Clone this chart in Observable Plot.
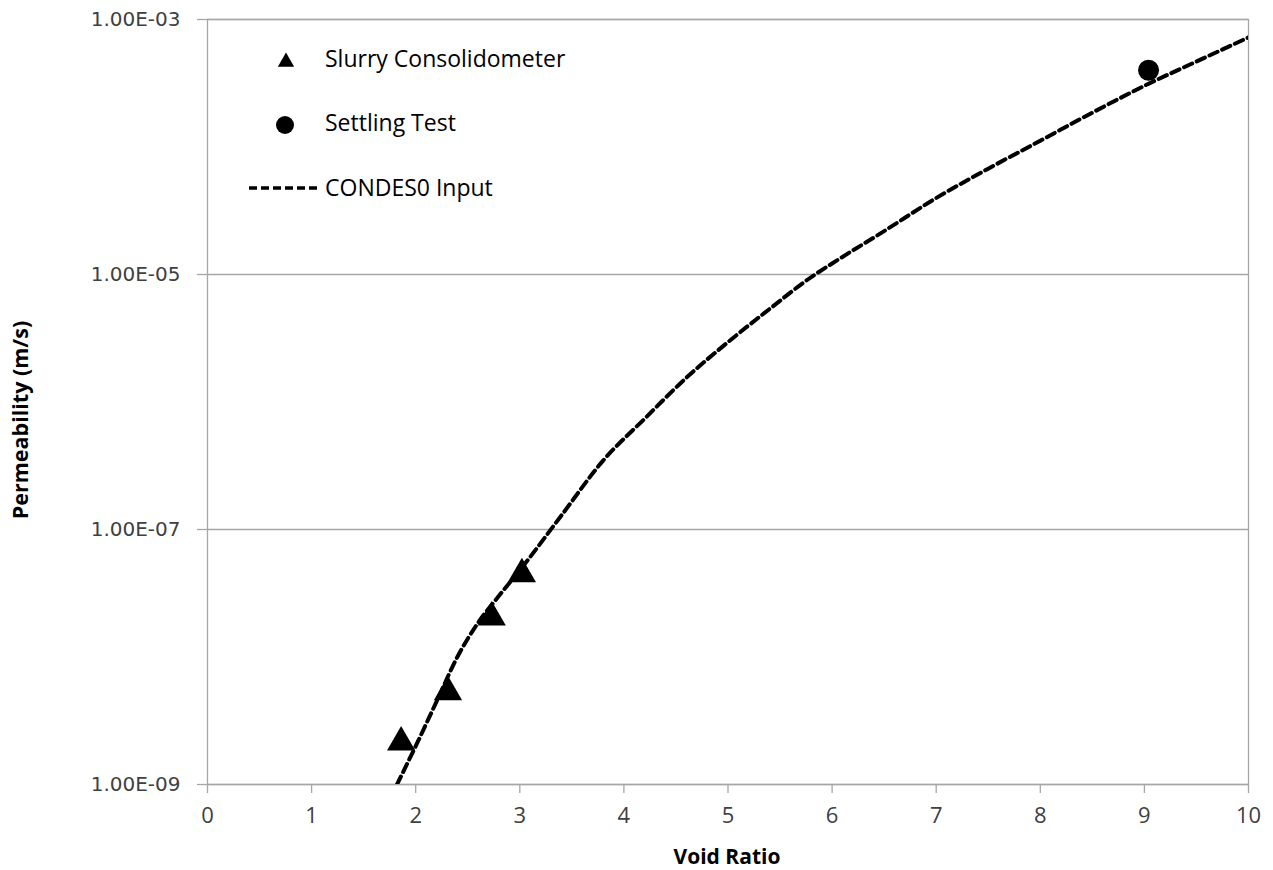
<!DOCTYPE html>
<html>
<head>
<meta charset="utf-8">
<script src="https://cdn.jsdelivr.net/npm/d3@7"></script>
<script src="https://cdn.jsdelivr.net/npm/@observablehq/plot@0.6"></script>
<style>
  html, body { margin: 0; padding: 0; background: #fff; }
  #wrap { position: relative; width: 1273px; height: 870px; overflow: hidden; }
  .title { position: absolute; font-family: "Open Sans", sans-serif; font-weight: bold; font-size: 21px; line-height: 1; color: #000; white-space: nowrap; }
  #xtitle { left: 0; width: 1454px; text-align: center; top: 846px; }
  #ytitle { left: 20px; top: 420px; transform: translate(-50%, -50%) rotate(-90deg); font-size: 21.5px; }
  #legend { position: absolute; left: 0; top: 0; width: 600px; height: 220px; pointer-events: none; }
  #legend text { font-family: "Open Sans", sans-serif; font-size: 23px; fill: #000; }
</style>
</head>
<body>
<div id="wrap">
  <div id="chart"></div>
  <svg id="legend" width="600" height="220">
    <path d="M0,0" id="legTri" fill="#000"></path>
    <circle id="legDot" r="9" fill="#000"></circle>
    <line id="legLine" stroke="#000" stroke-width="3.5" stroke-dasharray="8,4"></line>
    <text id="legT1"></text>
    <text id="legT2"></text>
    <text id="legT3"></text>
  </svg>
  <div class="title" id="xtitle">Void Ratio</div>
  <div class="title" id="ytitle">Permeability (m/s)</div>
</div>
<script>
// ---- data ----
const slurryVoid = [1.86, 2.31, 2.73, 3.02];
const slurryPerm = [2.3e-9, 5.7e-9, 2.2e-8, 4.8e-8];

const settlingVoid = [9.04];
const settlingPerm = [4.0e-4];

const condesVoid = [1.82, 2.0, 2.2, 2.4, 2.6, 2.8, 3.0, 3.4, 3.8, 4.2, 4.6, 5.0, 5.4, 5.8, 6.0, 6.5, 7.0, 7.5, 8.0, 8.5, 9.0, 9.5, 10.0];
const condesPerm = [1.0e-9, 2.0e-9, 4.47e-9, 1.0e-8, 1.86e-8, 3.02e-8, 4.79e-8, 1.29e-7, 3.47e-7, 7.41e-7, 1.55e-6, 2.95e-6, 5.37e-6, 9.55e-6, 1.22e-5, 2.19e-5, 3.98e-5, 6.76e-5, 1.12e-4, 1.86e-4, 3.02e-4, 4.68e-4, 7.24e-4];

const xTicks = [0, 1, 2, 3, 4, 5, 6, 7, 8, 9, 10];
const yTicks = [1e-9, 1e-7, 1e-5, 1e-3];

const legendLabels = ["Slurry Consolidometer", "Settling Test", "CONDES0 Input"];

// ---- tables ----
const slurry = slurryVoid.map((v, i) => ({e: v, k: slurryPerm[i]}));
const settling = settlingVoid.map((v, i) => ({e: v, k: settlingPerm[i]}));
const condes = condesVoid.map((v, i) => ({e: v, k: condesPerm[i]}));

function sciFmt(d) {
  const ex = Math.round(Math.log10(d));
  const m = d / Math.pow(10, ex);
  return m.toFixed(2) + "E" + (ex < 0 ? "-" : "+") + String(Math.abs(ex)).padStart(2, "0");
}

const gridColor = "#a6a6a6";

const chart = Plot.plot({
  width: 1273,
  height: 870,
  marginLeft: 207,
  marginRight: 25,
  marginTop: 19,
  marginBottom: 86,
  style: { background: "#fff", overflow: "visible" },
  x: { domain: [0, 10], ticks: xTicks },
  y: { type: "log", domain: [1e-9, 1e-3], ticks: yTicks },
  marks: [
    Plot.ruleY(yTicks, { stroke: gridColor, strokeWidth: 1.3 }),
    Plot.frame({ stroke: gridColor, strokeWidth: 1.3 }),
    Plot.axisX({
      ticks: xTicks, tickSize: 9, tickPadding: 14, stroke: gridColor, strokeWidth: 1.3,
      label: null, fontSize: 22, fill: "#404040"
    }),
    Plot.axisY({
      ticks: yTicks, tickSize: 10, tickPadding: 17, tickFormat: sciFmt, stroke: gridColor, strokeWidth: 1.3,
      label: null, fontSize: 20, fill: "#404040"
    }),
    Plot.line(condes, { x: "e", y: "k", curve: "monotone-x", stroke: "#000", strokeWidth: 4, strokeDasharray: "9,5", clip: true }),
    Plot.dot(slurry, { x: "e", y: "k", symbol: "triangle", r: 10.5, fill: "#000", stroke: "none", dy: 4 }),
    Plot.dot(settling, { x: "e", y: "k", symbol: "circle", r: 10.5, fill: "#000", stroke: "none" })
  ]
});
document.getElementById("chart").appendChild(chart);

// fonts for tick labels
d3.select(chart).selectAll("text").each(function () {
  const t = this.textContent;
  if (/E[-+]\d\d$/.test(t)) {
    d3.select(this).style("font-family", "'DejaVu Sans', sans-serif").style("font-size", "20px");
  } else if (/^\d+$/.test(t)) {
    d3.select(this).style("font-family", "'Open Sans', sans-serif").style("font-size", "22px");
  }
});

// ---- legend (inside plot area, top-left) ----
const triSym = d3.symbol(d3.symbolTriangle, 115)();
const legTri = document.getElementById("legTri");
legTri.setAttribute("d", triSym);
legTri.setAttribute("transform", "translate(286,62)");
const legDot = document.getElementById("legDot");
legDot.setAttribute("cx", 285); legDot.setAttribute("cy", 125);
const legLine = document.getElementById("legLine");
legLine.setAttribute("x1", 249); legLine.setAttribute("x2", 320);
legLine.setAttribute("y1", 188); legLine.setAttribute("y2", 188);
const ys = [67, 131, 196];
["legT1", "legT2", "legT3"].forEach((id, i) => {
  const t = document.getElementById(id);
  t.setAttribute("x", 325); t.setAttribute("y", ys[i]);
  t.textContent = legendLabels[i];
});
</script>
</body>
</html>
